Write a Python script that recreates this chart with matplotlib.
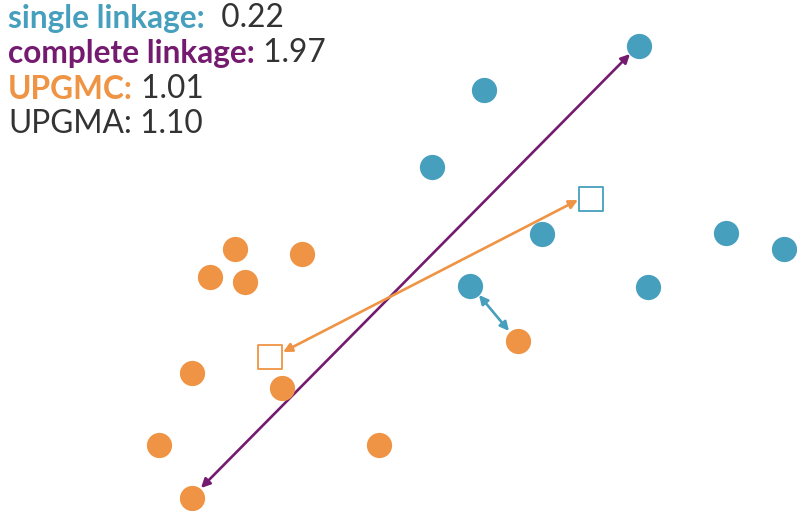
import numpy as np
import matplotlib
matplotlib.use("Agg")
import matplotlib.pyplot as plt

# point positions (pixel space, y down)
blue_x = [639, 484, 432, 542, 726, 784, 648, 470]
blue_y = [46, 90, 167, 234, 233, 249, 287, 286]
orange_x = [235, 302, 210, 245, 192, 282, 518, 159, 379, 192]
orange_y = [249, 254, 277, 282, 373, 388, 341, 445, 445, 498]

# cluster centroids
cent_blue = (591, 199)
cent_orange = (270, 357)

# linkage arrows: (start, end)
single_link = ((479, 295), (509, 331))
complete_link = ((201, 488), (630, 54))
upgmc_link = ((283, 352), (578, 200))

labels = ["single linkage:", "complete linkage:", "UPGMC:", "UPGMA:"]
values = ["  0.22", " 1.97", " 1.01", " 1.10"]

blue = "#469fbd"
orange = "#ef9344"
purple = "#741b6f"
dark = "#333333"
label_colors = [blue, purple, orange, dark]
label_weights = ["bold", "bold", "bold", "normal"]

fig = plt.figure(figsize=(7.97, 5.11), dpi=100)
ax = fig.add_axes([0, 0, 1, 1])
ax.set_xlim(0, 797)
ax.set_ylim(511, 0)
ax.axis("off")

ax.scatter(blue_x, blue_y, s=330, color=blue, linewidths=0, zorder=3)
ax.scatter(orange_x, orange_y, s=330, color=orange, linewidths=0, zorder=3)
ax.scatter([cent_blue[0]], [cent_blue[1]], s=290, marker="s", facecolor="white",
           edgecolor=blue, linewidths=1.3, zorder=3)
ax.scatter([cent_orange[0]], [cent_orange[1]], s=290, marker="s", facecolor="white",
           edgecolor=orange, linewidths=1.3, zorder=3)

for (a, b), c in [(single_link, blue), (complete_link, purple), (upgmc_link, orange)]:
    ax.annotate("", xy=b, xytext=a,
                arrowprops=dict(arrowstyle="<|-|>", color=c, lw=1.9,
                                mutation_scale=13, shrinkA=0, shrinkB=0),
                zorder=2)

fs = 22.8
base_y = [28, 63, 99, 133]
for lab, val, col, w, y in zip(labels, values, label_colors, label_weights, base_y):
    t = ax.text(8, y, lab, color=col, fontsize=fs, fontweight=w,
                family="Lato", va="baseline", ha="left")
    ax.annotate(val, xy=(1, 0), xycoords=t, color=dark, fontsize=fs,
                family="Lato", va="bottom", ha="left")

fig.savefig("out.png", dpi=100)
